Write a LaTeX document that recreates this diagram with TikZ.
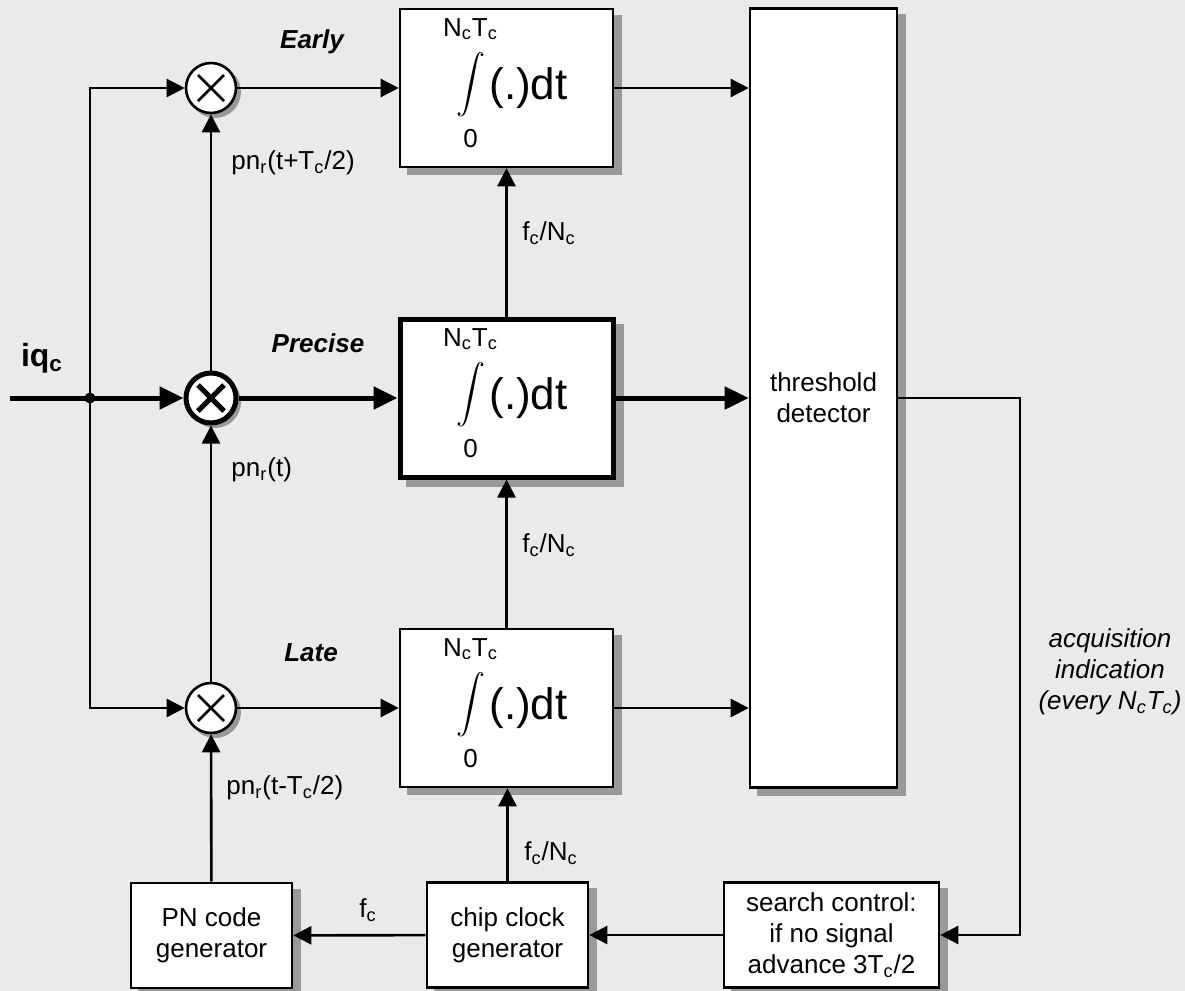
\documentclass[tikz,border=0pt]{standalone}
\usepackage{fontspec}
\setmainfont{Liberation Sans}
\usetikzlibrary{arrows.meta,positioning,backgrounds}
\definecolor{bggray}{RGB}{234,234,234}
\definecolor{shadowgray}{RGB}{153,153,153}
\newcommand{\idx}[1]{\textsubscript{#1}}
\newcommand{\lblfont}{\fontsize{13}{15.5}\selectfont}
\pgfdeclarelayer{bottom}
\pgfsetlayers{bottom,background,main}

\begin{document}
\begin{tikzpicture}[
    x=0.5pt, y=-0.5pt,
    box/.style={rectangle, draw, fill=white, line width=1.3pt, align=center, font=\lblfont},
    intbox/.style={box, minimum width=106.5pt, minimum height=79pt},
    genbox/.style={box, minimum width=80.5pt, minimum height=52.5pt},
    mixer/.style={circle, draw, fill=white, line width=#1, minimum size=25pt, inner sep=0pt,
        path picture={\draw[line width=#1] (path picture bounding box.center) ++(-6.5pt,-6.5pt) -- ++(13pt,13pt) ++(-13pt,0pt) -- ++(13pt,-13pt);}},
    mixer/.default=1.3pt,
    shade/.style={fill=shadowgray, draw=none},
    wire/.style={line width=1.3pt, -{Triangle[length=9pt,width=9pt]}},
    bus/.style={line width=2.5pt, -{Triangle[length=12pt,width=11pt]}},
    lbl/.style={font=\lblfont, inner sep=0pt},
    chan/.style={font=\fontsize{13}{15}\selectfont\bfseries\itshape, inner sep=0pt},
    dot/.style={circle, fill, inner sep=0pt, minimum size=5.5pt}
]
    \begin{pgfonlayer}{bottom}
        \fill[bggray] (0,0) rectangle (1185,991);
    \end{pgfonlayer}
    \useasboundingbox (0,0) rectangle (1185,991);

    \node[mixer] (mixE) at (211,88) {};
    \node[mixer=2.5pt] (mixP) at (211,398) {};
    \node[mixer] (mixL) at (211,708) {};

    \foreach \n/\y/\w in {intE/88/1.3pt, intP/398/2.5pt, intL/708/1.3pt}{
        \node[intbox, line width=\w] (\n) at (506.5,\y) {};
        \node[lbl] (\n-top) at ([xshift=-18pt, yshift=29.5pt]\n.center) {N\idx{c}T\idx{c}};
        \node[inner sep=0pt] (\n-sign) at ([xshift=-18pt, yshift=-2pt]\n.center) {\smash{\scalebox{1.45}{$\displaystyle\int$}}};
        \node[inner sep=0pt, font=\fontsize{22}{24}\selectfont] (\n-fn) at ([xshift=11pt]\n.center) {(.)dt};
        \node[lbl] (\n-bot) at ([xshift=-18pt, yshift=-25.5pt]\n.center) {0};
    }

    \node[box, minimum width=73.5pt, minimum height=389.5pt] (thr) at (823.5,398) {threshold\\detector};
    \node[genbox] (pngen) at (211.5,935.5) {PN code\\generator};
    \node[genbox] (clk) at (507.5,935) {chip clock\\generator};
    \node[genbox, minimum width=107.5pt] (search) at (831.5,935) {search control:\\if no signal\\advance 3T\idx{c}/2};

    \begin{scope}[on background layer]
        \foreach \n in {intE,intP,intL,thr,pngen,clk,search}
            \fill[shade] ([shift={(4pt,-3.5pt)}]\n.south west) rectangle ([shift={(4pt,-3.5pt)}]\n.north east);
        \foreach \n in {mixE,mixP,mixL}
            \fill[shade] ([shift={(2pt,-2pt)}]\n.center) circle (13pt);
    \end{scope}

    \node[dot] (jn) at (90,398) {};
    \coordinate (in) at (10,398);
    \coordinate (acq) at (1020,398);

    \draw[bus] (in) -- (mixP);
    \draw[wire] (jn.center) |- (mixE);
    \draw[wire] (jn.center) |- (mixL);
    \draw[wire] (mixE) -- (intE);
    \draw[bus] (mixP) -- (intP);
    \draw[wire] (mixL) -- (intL);
    \draw[wire] (intE) -- (thr.west |- intE);
    \draw[bus] (intP) -- (thr.west |- intP);
    \draw[wire] (intL) -- (thr.west |- intL);
    \draw[wire] (mixP) -- (mixE);
    \draw[wire] (mixL) -- (mixP);
    \draw[wire] (pngen) -- (mixL);
    \draw[wire] (intP) -- (intE);
    \draw[wire] (intL) -- (intP);
    \draw[wire] (clk) -- (clk |- intL.south);
    \draw[wire] (clk) -- (pngen);
    \draw[wire] (search) -- (clk);
    \draw[wire] (thr.east |- acq) -- (acq) |- (search);

    \node[chan] (early) at (312,42) {Early};
    \node[chan] (precise) at (318,343) {Precise};
    \node[chan] (late) at (311,653) {Late};
    \node[font=\fontsize{16}{18}\selectfont\bfseries, inner sep=0pt] (iq) at (42,358) {iq\idx{c}};

    \node[lbl, anchor=west] (pnE) at (231,163) {pn\idx{r}(t+T\idx{c}/2)};
    \node[lbl, anchor=west] (pnP) at (231,470) {pn\idx{r}(t)};
    \node[lbl, anchor=west] (pnL) at (226,788) {pn\idx{r}(t-T\idx{c}/2)};
    \node[lbl, anchor=west] (fcE) at (522,233) {f\idx{c}/N\idx{c}};
    \node[lbl, anchor=west] (fcP) at (522,545) {f\idx{c}/N\idx{c}};
    \node[lbl, anchor=west] (fcL) at (524,853) {f\idx{c}/N\idx{c}};
    \node[lbl] (fc) at (368,910) {f\idx{c}};
    \node[lbl, font=\lblfont\itshape, align=center] (acqtxt) at (1110,672) {acquisition\\indication\\(every N\idx{c}T\idx{c})};
\end{tikzpicture}
\end{document}
